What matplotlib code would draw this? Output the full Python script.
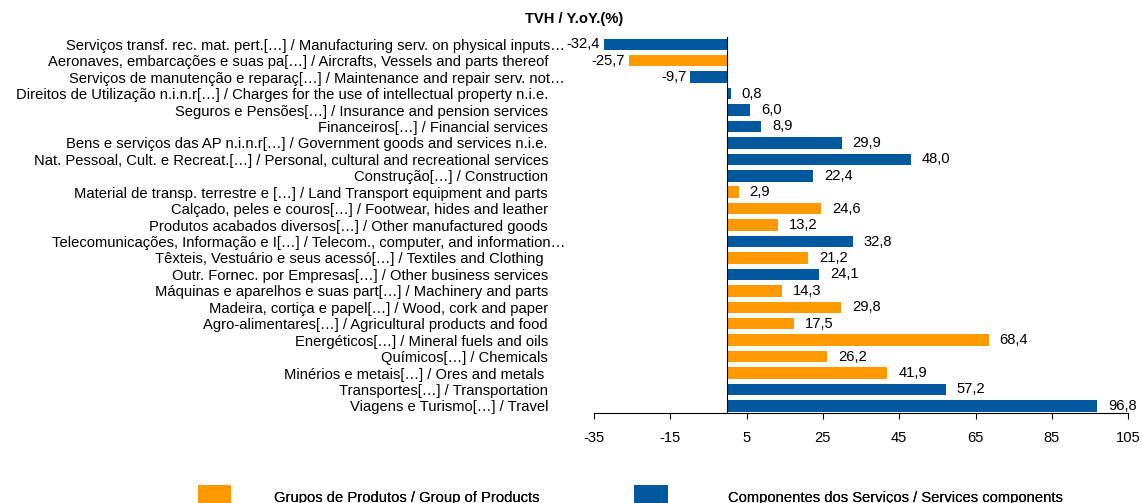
import matplotlib
matplotlib.use("Agg")
import matplotlib.pyplot as plt
import matplotlib.transforms as mtransforms
from matplotlib.patches import Patch

plt.rcParams['font.family'] = ['Liberation Sans', 'DejaVu Sans']

# Data (top to bottom)
labels = [
    "Serviços transf. rec. mat. pert.[…] / Manufacturing serv. on physical inputs…",
    "Aeronaves, embarcações e suas pa[…] / Aircrafts, Vessels and parts thereof",
    "Serviços de manutenção e reparaç[…] / Maintenance and repair serv. not…",
    "Direitos de Utilização n.i.n.r[…] / Charges for the use of intellectual property n.i.e.",
    "Seguros e Pensões[…] / Insurance and pension services",
    "Financeiros[…] / Financial services",
    "Bens e serviços das AP n.i.n.r[…] / Government goods and services n.i.e.",
    "Nat. Pessoal, Cult. e Recreat.[…] / Personal, cultural and recreational services",
    "Construção[…] / Construction",
    "Material de transp. terrestre e […] / Land Transport equipment and parts",
    "Calçado, peles e couros[…] / Footwear, hides and leather",
    "Produtos acabados diversos[…] / Other manufactured goods",
    "Telecomunicações, Informação e I[…] / Telecom., computer, and information…",
    "Têxteis, Vestuário e seus acessó[…] / Textiles and Clothing ",
    "Outr. Fornec. por Empresas[…] / Other business services",
    "Máquinas e aparelhos e suas part[…] / Machinery and parts",
    "Madeira, cortiça e papel[…] / Wood, cork and paper",
    "Agro-alimentares[…] / Agricultural products and food",
    "Energéticos[…] / Mineral fuels and oils",
    "Químicos[…] / Chemicals",
    "Minérios e metais[…] / Ores and metals ",
    "Transportes[…] / Transportation",
    "Viagens e Turismo[…] / Travel",
]
values = [-32.4, -25.7, -9.7, 0.8, 6.0, 8.9, 29.9, 48.0, 22.4, 2.9, 24.6, 13.2,
          32.8, 21.2, 24.1, 14.3, 29.8, 17.5, 68.4, 26.2, 41.9, 57.2, 96.8]
# "P" = Grupos de Produtos, "S" = Componentes dos Serviços
groups = ["S", "P", "S", "S", "S", "S", "S", "S", "S", "P", "P", "P",
          "S", "P", "S", "P", "P", "P", "P", "P", "P", "S", "S"]
xticks = [-35, -15, 5, 25, 45, 65, 85, 105]

ORANGE = "#FF9900"
BLUE = "#00589F"
FS = 10.6
colors = [ORANGE if g == "P" else BLUE for g in groups]

fig = plt.figure(figsize=(11.42, 5.03), dpi=100)
ax = fig.add_axes([0.520, 0.179, 0.468, 0.747])

y = list(range(len(values)))
ax.barh(y, values, height=0.7, color=colors)

ax.set_xlim(-35, 105)
ax.set_ylim(len(values) - 1 + 0.43, -0.43)
ax.set_xticks(xticks)
ax.set_xticklabels([str(t) for t in xticks], fontsize=FS)
ax.set_yticks(y)
ax.set_yticklabels(labels, fontsize=FS)
ax.tick_params(axis='y', length=0, pad=33)
ax.tick_params(axis='x', length=4, width=0.8, direction='out', pad=9)

# truncated labels (ending with an ellipsis) stick out a bit to the right
shift = mtransforms.ScaledTranslation(17 / 100, 0, fig.dpi_scale_trans)
for tl in ax.get_yticklabels():
    if tl.get_text().endswith("…"):
        tl.set_transform(tl.get_transform() + shift)

for s in ["top", "right", "left"]:
    ax.spines[s].set_visible(False)
ax.spines["bottom"].set_linewidth(0.8)
ax.axvline(0, color="black", linewidth=0.8)

# value labels
for yi, v in zip(y, values):
    txt = f"{v:.1f}".replace(".", ",")
    if v >= 0:
        ax.annotate(txt, (v, yi), xytext=(8, 0), textcoords="offset points",
                    ha="left", va="center", fontsize=FS)
    else:
        ax.annotate(txt, (v, yi), xytext=(-3, 0), textcoords="offset points",
                    ha="right", va="center", fontsize=FS)

fig.text(0.503, 0.963, "TVH / Y.oY.(%)", ha="center", va="center",
         fontsize=FS, fontweight="bold")

# legend: two separate entries at the bottom
leg_items = [
    (ORANGE, "Grupos de Produtos / Group of Products", 0.173, 2.9),
    (BLUE, "Componentes dos Serviços / Services components", 0.555, 4.1),
]
for col, lab, xpos, tpad in leg_items:
    leg = fig.legend(handles=[Patch(facecolor=col, label=lab)], loc="upper left",
                     bbox_to_anchor=(xpos, 0.036), frameon=False, fontsize=FS,
                     handlelength=2.3, handleheight=2.2, handletextpad=tpad,
                     borderaxespad=0, borderpad=0)
    fig.add_artist(leg)

fig.savefig("out.png", dpi=100)
